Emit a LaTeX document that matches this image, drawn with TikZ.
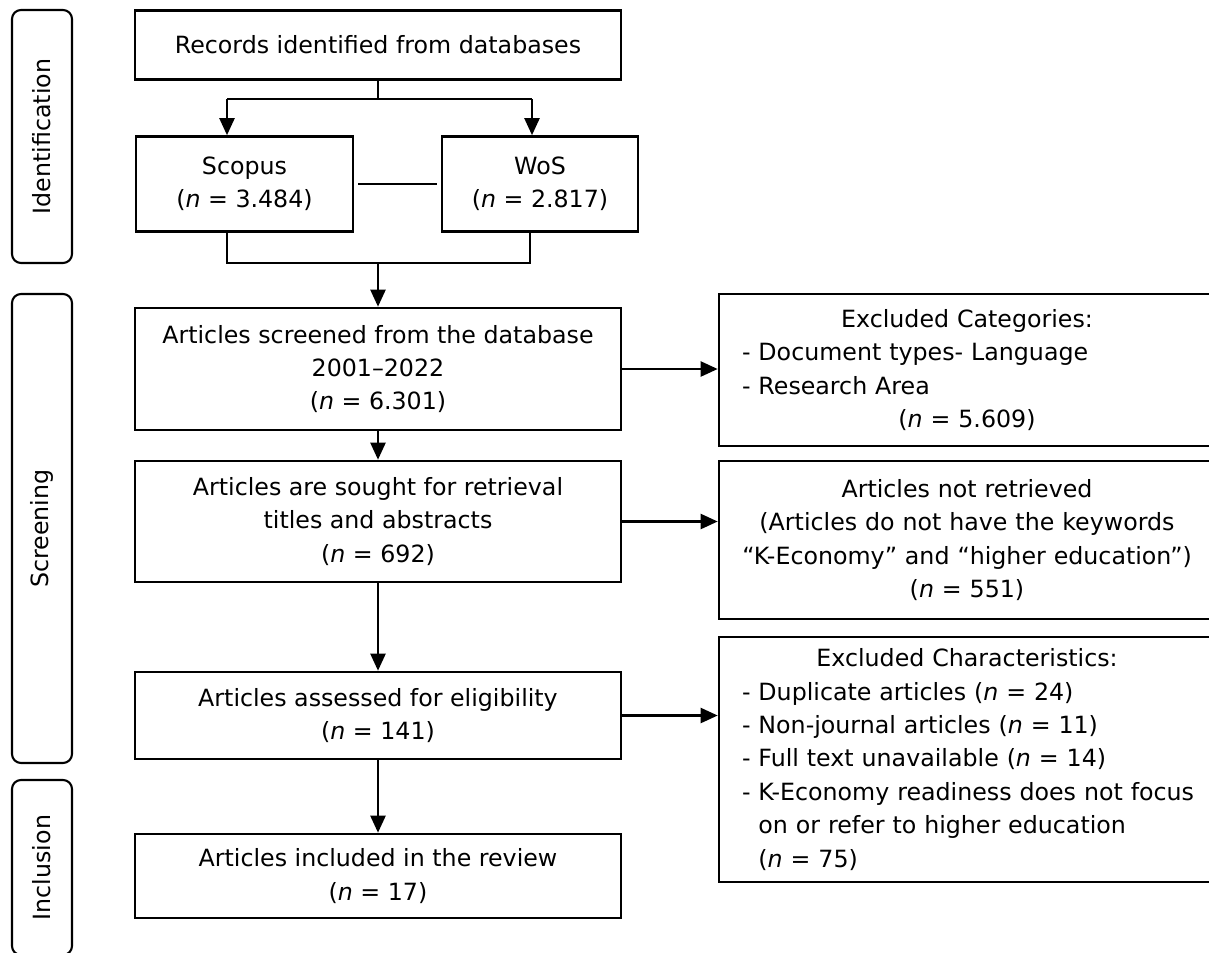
\documentclass[tikz,border=0pt]{standalone}
\usepackage{fontspec}
\setmainfont{DejaVu Sans}
\usetikzlibrary{arrows.meta}
\newcommand{\boxline}[1]{\makebox[\hsize][l]{#1}}

\begin{document}
\begin{tikzpicture}[font=\fontsize{13.5}{19}\selectfont]
    \useasboundingbox (0,0) rectangle (24.18,-19.04);
    \clip (0,0) rectangle (24.18,-19.04);
    % stages
    \begin{scope}[every node/.style={draw,line width=1.2pt,rounded corners=0.18cm,rotate=90,minimum height=1.2cm}]
      \node[minimum width=5.06cm] (ident) at (0.84,-2.73) {Identification};
      \node[minimum width=9.38cm] (screen) at (0.84,-10.57) {Screening};
      \node[minimum width=3.5cm] (incl) at (0.84,-17.35) {Inclusion};
    \end{scope}
    % main flow
    \begin{scope}[every node/.style={draw,line width=1.5pt,align=center,minimum width=9.72cm}]
      \node[minimum height=1.38cm] (rec) at (7.56,-0.90) {Records identified from databases};
      \node[minimum width=4.34cm,minimum height=1.90cm] (scopus) at (4.89,-3.68) {Scopus\\(\textit{n} = 3.484)};
      \node[minimum width=3.92cm,minimum height=1.90cm] (wos) at (10.80,-3.68) {WoS\\(\textit{n} = 2.817)};
      \node[minimum height=2.44cm] (screened) at (7.56,-7.38) {Articles screened from the database\\2001–2022\\(\textit{n} = 6.301)};
      \node[minimum height=2.42cm] (sought) at (7.56,-10.43) {Articles are sought for retrieval\\titles and abstracts\\(\textit{n} = 692)};
      \node[minimum height=1.74cm] (elig) at (7.56,-14.31) {Articles assessed for eligibility\\(\textit{n} = 141)};
      \node[minimum height=1.68cm] (incl) at (7.56,-17.52) {Articles included in the review\\(\textit{n} = 17)};
    \end{scope}
    % exclusions
    \begin{scope}[every node/.style={draw,line width=1.5pt,align=center,text width=9.0cm,minimum width=9.92cm}]
      \node[minimum height=3.04cm] (exccat) at (19.34,-7.40) {Excluded Categories:\\
        \boxline{- Document types- Language}\\
        \boxline{- Research Area}\\
        (\textit{n} = 5.609)};
      \node[minimum height=3.16cm] (notret) at (19.34,-10.80) {Articles not retrieved\\
        (Articles do not have the keywords\\
        “K-Economy” and “higher education”)\\
        (\textit{n} = 551)};
      \node[minimum height=4.90cm] (excchar) at (19.34,-15.19) {Excluded Characteristics:\\
        \boxline{- Duplicate articles (\textit{n} = 24)}\\
        \boxline{- Non-journal articles (\textit{n} = 11)}\\
        \boxline{- Full text unavailable (\textit{n} = 14)}\\
        \boxline{- K-Economy readiness does not focus}\\
        \boxline{\phantom{- }on or refer to higher education}\\
        \boxline{\phantom{- }(\textit{n} = 75)}};
    \end{scope}
    \coordinate (forkL) at (4.54,-1.98);
    \coordinate (forkR) at (10.64,-1.98);
    \coordinate (joinL) at (4.54,-5.26);
    \coordinate (joinR) at (10.60,-5.26);
    \begin{scope}[line width=1.3pt,every edge/.style={draw=black,line width=1.3pt,-{Triangle[length=0.34cm,width=0.3cm]}}]
      \draw (rec.south) -- (rec.south |- forkL);
      \draw (forkL) -- (forkR);
      \path (forkL) edge (forkL |- scopus.north);
      \path (forkR) edge (forkR |- wos.north);
      \draw[shorten <=0.08cm,shorten >=0.08cm] (scopus.east) -- (wos.west);
      \draw (joinL |- scopus.south) -- (joinL) -- (joinR) -- (joinR |- wos.south);
      \path (joinL -| screened.north) edge (screened.north);
      \path (screened) edge (sought);
      \path (sought) edge (elig);
      \path (elig) edge (incl);
      \path (screened.east) edge (screened.east -| exccat.west);
      \path (sought.east) edge (sought.east -| notret.west);
      \path (elig.east) edge (elig.east -| excchar.west);
    \end{scope}
  \end{tikzpicture}
\end{document}
